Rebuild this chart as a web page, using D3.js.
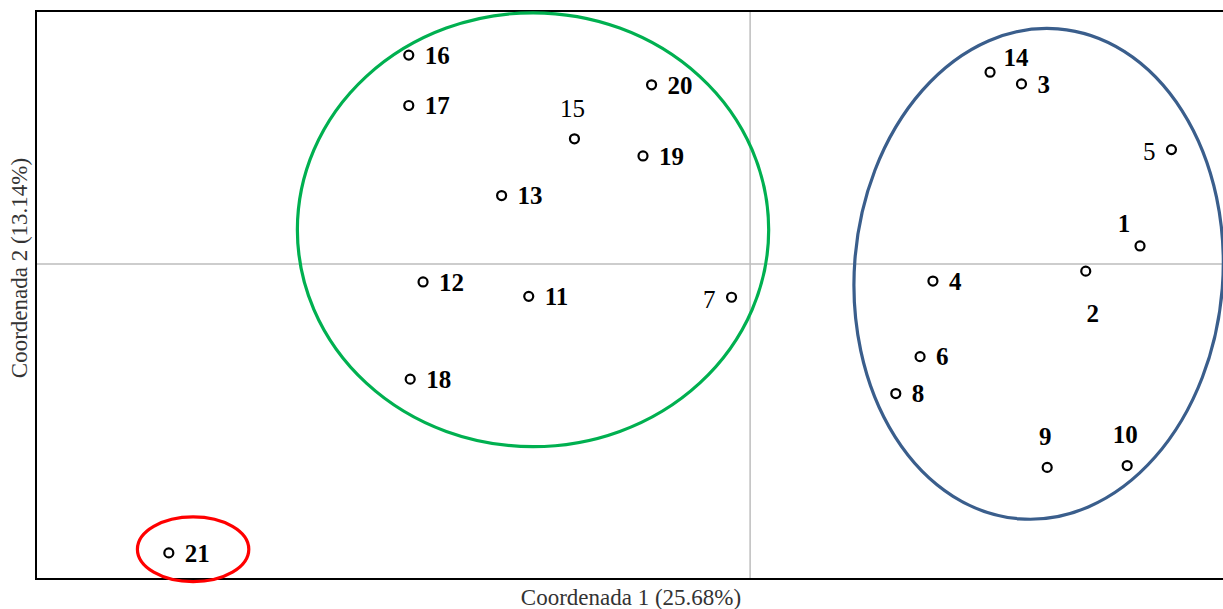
<!DOCTYPE html>
<html>
<head>
<meta charset="utf-8">
<script src="https://cdn.jsdelivr.net/npm/d3@7"></script>
<style>
  body { margin: 0; background: #fff; }
  svg { display: block; }
</style>
</head>
<body>
<div id="chart"></div>
<script>
// sample ids and PCoA scores
const ids   = ["1","2","3","4","5","6","7","8","9","10","11","12","13","14","15","16","17","18","19","20","21"];
const coord1 = [0.273, 0.235, 0.190, 0.128, 0.295, 0.119, -0.013, 0.102, 0.208, 0.264, -0.155, -0.229, -0.174, 0.168, -0.123, -0.239, -0.239, -0.238, -0.075, -0.069, -0.407];
const coord2 = [0.020, -0.008, 0.200, -0.019, 0.127, -0.103, -0.037, -0.144, -0.226, -0.224, -0.036, -0.020, 0.076, 0.213, 0.139, 0.232, 0.176, -0.128, 0.120, 0.199, -0.321];
// where each label sits relative to its point
const labelPos = ["tl","b","r","r","l","r","l","r","t","t","r","r","r","tr","t","r","r","r","r","r","r"];
const labelBold = ["1","2","3","4","6","8","9","10","11","12","13","14","16","17","18","19","20","21"];

// group ellipses: centre and radii in data units, tilt in degrees
const groupNames = ["A", "B", "C"];
const groupCx = [-0.152, 0.202, -0.390];
const groupCy = [0.038, -0.011, -0.317];
const groupRx = [0.165, 0.129, 0.039];
const groupRy = [0.241, 0.273, 0.036];
const groupTilt = [0, 4.5, 0];
const groupColor = ["#00b050", "#3a5e8c", "#ff0000"];

const xTitle = "Coordenada 1 (25.68%)";
const yTitle = "Coordenada 2 (13.14%)";

const W = 1223, H = 609;
const m = {left: 36, top: 11, right: -17, bottom: 30};

const svg = d3.select("#chart").append("svg").attr("width", W).attr("height", H);

const x = d3.scaleLinear().domain([-0.5, 0.343]).range([m.left, W - m.right]);
const y = d3.scaleLinear().domain([-0.35, 0.281]).range([H - m.bottom, m.top]);

const g = svg.append("g");

// zero lines
g.append("line")
  .attr("x1", x(0)).attr("x2", x(0))
  .attr("y1", y.range()[1]).attr("y2", y.range()[0])
  .attr("stroke", "#bdbdbd").attr("stroke-width", 1.5);
g.append("line")
  .attr("x1", x.range()[0]).attr("x2", x.range()[1])
  .attr("y1", y(0)).attr("y2", y(0))
  .attr("stroke", "#bdbdbd").attr("stroke-width", 1.5);

// frame
g.append("rect")
  .attr("x", x.range()[0]).attr("y", y.range()[1])
  .attr("width", x.range()[1] - x.range()[0])
  .attr("height", y.range()[0] - y.range()[1])
  .attr("fill", "none").attr("stroke", "#000").attr("stroke-width", 2);

// ellipses
g.selectAll("ellipse.grp")
  .data(groupNames)
  .join("ellipse")
  .attr("class", "grp")
  .attr("transform", (d, i) => `translate(${x(groupCx[i])},${y(groupCy[i])}) rotate(${groupTilt[i]})`)
  .attr("rx", (d, i) => x(groupRx[i]) - x(0))
  .attr("ry", (d, i) => y(0) - y(groupRy[i]))
  .attr("fill", "none")
  .attr("stroke", (d, i) => groupColor[i])
  .attr("stroke-width", 3.2);

// points
g.selectAll("circle.pt")
  .data(ids)
  .join("circle")
  .attr("class", "pt")
  .attr("cx", (d, i) => x(coord1[i]))
  .attr("cy", (d, i) => y(coord2[i]))
  .attr("r", 4.5)
  .attr("fill", "#fff")
  .attr("stroke", "#000")
  .attr("stroke-width", 2.2);

// labels
const off = {
  r:  [16, 0, "start"],
  l:  [-16, 2, "end"],
  t:  [-2, -31, "middle"],
  tl: [-16, -23, "middle"],
  tr: [26, -15, "middle"],
  b:  [7, 42, "middle"]
};
g.selectAll("text.lbl")
  .data(ids)
  .join("text")
  .attr("class", "lbl")
  .attr("x", (d, i) => x(coord1[i]) + off[labelPos[i]][0])
  .attr("y", (d, i) => y(coord2[i]) + off[labelPos[i]][1])
  .attr("dy", "0.35em")
  .attr("text-anchor", (d, i) => off[labelPos[i]][2])
  .attr("font-family", "'Liberation Serif', 'DejaVu Serif', serif")
  .attr("font-size", 25)
  .attr("font-weight", d => labelBold.includes(d) ? "bold" : "normal")
  .attr("fill", "#000")
  .text(d => d);

// axis titles
svg.append("text")
  .attr("x", 631).attr("y", H - 4)
  .attr("text-anchor", "middle")
  .attr("font-family", "'Liberation Serif', serif")
  .attr("font-size", 23)
  .attr("fill", "#333")
  .text(xTitle);

svg.append("text")
  .attr("transform", "translate(27, 268) rotate(-90)")
  .attr("text-anchor", "middle")
  .attr("font-family", "'Liberation Serif', serif")
  .attr("font-size", 23)
  .attr("fill", "#333")
  .text(yTitle);
</script>
</body>
</html>
